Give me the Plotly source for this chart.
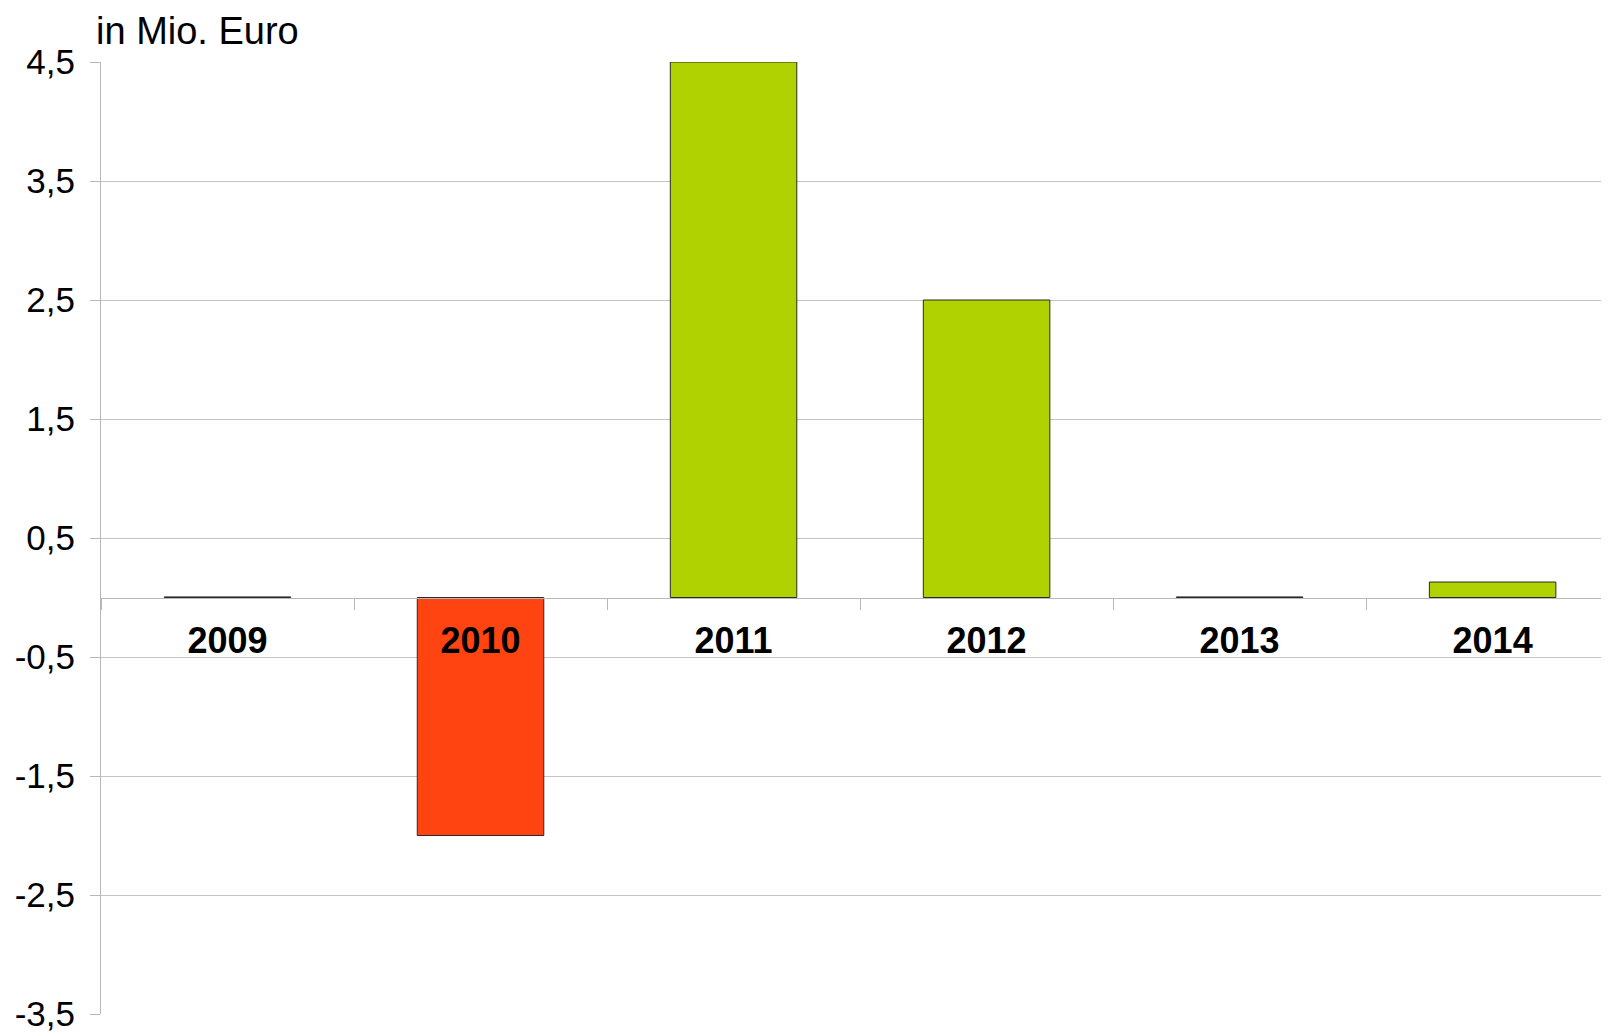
import plotly.graph_objects as go

years = ["2009", "2010", "2011", "2012", "2013", "2014"]
values = [0.005, -2.0, 4.5, 2.5, 0.005, 0.13]
bar_colors = ["#B0D200", "#FF4411", "#B0D200", "#B0D200", "#B0D200", "#B0D200"]
y_ticks = [-3.5, -2.5, -1.5, -0.5, 0.5, 1.5, 2.5, 3.5, 4.5]
y_tick_text = ["-3,5", "-2,5", "-1,5", "-0,5", "0,5", "1,5", "2,5", "3,5", "4,5"]

fig = go.Figure()
fig.add_trace(go.Bar(
    x=years, y=values,
    marker=dict(color=bar_colors, line=dict(color="#2a2a2a", width=1)),
    width=0.5,
))

fig.update_layout(
    width=1601, height=1026,
    margin=dict(l=93, r=0, t=54, b=20),
    paper_bgcolor="white", plot_bgcolor="white",
    showlegend=False,
    font=dict(family="Liberation Sans, Arial, sans-serif", color="black"),
    xaxis=dict(
        type="category",
        range=[-0.5, 5.46],
        anchor="free", position=0.4375,
        showline=True, linecolor="#b8b8b8", linewidth=1,
        ticks="outside", tickson="boundaries", ticklen=11, tickcolor="#b8b8b8",
        showgrid=False,
        tickfont=dict(size=36, family="Liberation Sans, Arial, sans-serif", color="black", weight="bold"),
        ticklabelstandoff=11,
    ),
    yaxis=dict(
        range=[-3.5, 4.5],
        tickvals=y_ticks, ticktext=y_tick_text,
        showgrid=True, gridcolor="#c4c4c4", gridwidth=1,
        zeroline=False,
        showline=True, linecolor="#b8b8b8", linewidth=1,
        ticks="outside", ticklen=10, tickcolor="#b8b8b8",
        tickfont=dict(size=35, color="black"),
        ticklabelstandoff=8,
    ),
    annotations=[dict(
        text="in Mio. Euro", xref="paper", yref="paper", x=0, y=1,
        xanchor="left", yanchor="middle", xshift=-7, yshift=31,
        showarrow=False, font=dict(size=38, color="black"),
    )],
)

fig.write_html("out.html")
